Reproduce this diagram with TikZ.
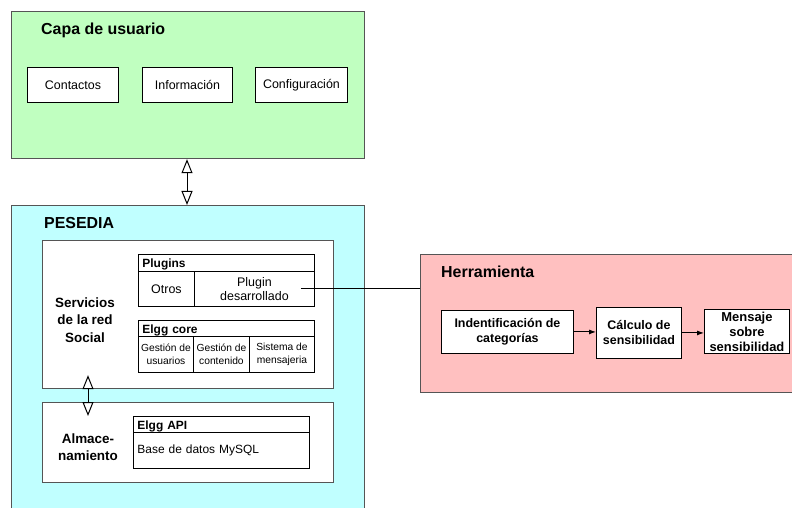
\documentclass[tikz,border=0pt]{standalone}
\usepackage{fontspec}
\setmainfont{Liberation Sans}
\usetikzlibrary{arrows.meta,calc}

\definecolor{layergreen}{RGB}{192,255,192}
\definecolor{layercyan}{RGB}{192,255,255}
\definecolor{layerpink}{RGB}{255,192,192}
\definecolor{framegray}{RGB}{85,85,85}

\newcommand{\fs}[2]{\fontsize{#1}{#2}\selectfont}

\begin{document}
\begin{tikzpicture}[x=1bp,y=-1bp,
  layer/.style={draw=framegray, line width=1.2bp, anchor=north west, inner sep=0pt},
  panel/.style={draw=framegray, fill=white, line width=1.2bp, anchor=north west, inner sep=0pt},
  cell/.style={draw=black, fill=white, line width=0.9bp, anchor=north west,
               inner sep=0pt, align=center, font=\fs{12.5}{14}},
  headcell/.style={draw=black, fill=white, line width=0.9bp, anchor=north west,
               inner sep=4bp, align=left, font=\fs{12}{14}\bfseries},
  smallcell/.style={cell, font=\fs{10.3}{13}},
  stepcell/.style={cell, font=\fs{12.5}{15}\bfseries},
  title/.style={anchor=west, inner sep=0pt, font=\fs{16}{19}\bfseries},
  sidetext/.style={align=center, inner sep=0pt, font=\fs{13.5}{17.5}\bfseries},
  iface/.style={{Triangle[open,length=14bp,width=11bp]}-{Triangle[open,length=14bp,width=11bp]},
                line width=1bp},
  flow/.style={-{Latex[length=7bp,width=5bp]}, line width=1bp},
  wire/.style={line width=1bp}]

\useasboundingbox (0,0) rectangle (792,508);
\clip (0,0) rectangle (792,508);

% ---- user layer ----
\node[layer, fill=layergreen, minimum width=353bp, minimum height=147bp] (user) at (11,11) {};
\node[title] (usertitle) at (41,30) {Capa de usuario};
\node[cell, minimum width=91bp, minimum height=35bp] (contactos) at (27,67) {Contactos};
\node[cell, minimum width=90bp, minimum height=35bp] (info) at (142,67) {Información};
\node[cell, minimum width=92bp, minimum height=35bp] (config) at (255,67) {Configuración};

% ---- PESEDIA platform ----
\node[layer, fill=layercyan, minimum width=353bp, minimum height=330bp] (pesedia) at (11,205) {};
\node[title] (pesediatitle) at (44,223) {PESEDIA};

\node[panel, minimum width=291bp, minimum height=148bp] (servicios) at (42,240) {};
\node[sidetext] (servtext) at (85,320) {Servicios\\de la red\\Social};

% plugins
\node[headcell, text width=168bp, minimum height=17bp] (plughead) at (138,254) {Plugins};
\node[cell, minimum width=56bp, minimum height=35bp] (otros) at (138,271) {Otros};
\node[cell, minimum width=120bp, minimum height=35bp] (plugdes) at (194,271) {Plugin\\desarrollado};

% elgg core
\node[headcell, text width=168bp, minimum height=16bp] (corehead) at (138,320) {Elgg core};
\node[smallcell, minimum width=55bp, minimum height=36bp] (gusr) at (138,336) {Gestión de\\usuarios};
\node[smallcell, minimum width=56bp, minimum height=36bp] (gcont) at (193,336) {Gestión de\\contenido};
\node[smallcell, minimum width=65bp, minimum height=36bp] (msg) at (249,336) {Sistema de\\mensajeria};

% storage
\node[panel, minimum width=291bp, minimum height=80bp] (almac) at (42,402) {};
\node[sidetext] (almtext) at (88,447) {Almace-\\namiento};
\node[headcell, text width=168bp, minimum height=16bp] (apihead) at (133,416) {Elgg API};
\node[headcell, font=\fs{12}{14}, text width=168bp, minimum height=36bp] (mysql) at (133,432) {Base de datos MySQL};

% ---- tool ----
\node[layer, fill=layerpink, minimum width=400bp, minimum height=138bp] (herr) at (420,254) {};
\node[title] (herrtitle) at (441,272) {Herramienta};
\node[stepcell, minimum width=132bp, minimum height=43bp] (ident) at (441,310) {Indentificación de\\categorías};
\node[stepcell, minimum width=85bp, minimum height=51bp] (calc) at (596,307) {Cálculo de\\sensibilidad};
\node[stepcell, font=\fs{13}{15}\bfseries, minimum width=85bp, minimum height=44bp] (mens) at (704,309) {Mensaje\\sobre\\sensibilidad};

% ---- connectors ----
\coordinate (axisA) at (187,0);
\draw[iface] (user.south -| axisA) -- (pesedia.north -| axisA);

\coordinate (axisB) at (88,0);
\draw[iface] ($(servicios.south -| axisB)+(0,-14)$) -- ($(almac.north -| axisB)+(0,14)$);

\coordinate (plugout) at ($(plugdes.east)+(-14,0)$);
\draw[wire] (plugout) -- (plugout -| herr.west);

\draw[flow] (ident.east) -- (ident.east -| calc.west);
\draw[flow] (calc.east) -- (calc.east -| mens.west);

\end{tikzpicture}
\end{document}
